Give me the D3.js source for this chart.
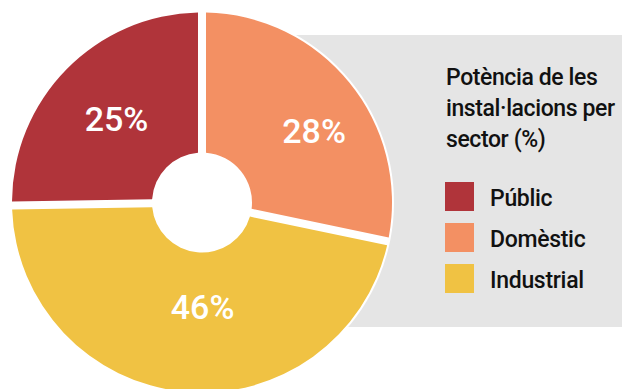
<!DOCTYPE html>
<html>
<head>
<meta charset="utf-8">
<script src="https://cdn.jsdelivr.net/npm/d3@7"></script>
<style>
  body { margin: 0; background: #fff; }
  svg text { font-family: Roboto, "Liberation Sans", sans-serif; font-weight: 500; }
</style>
</head>
<body>
<div id="chart"></div>
<script>
// data
const sectors = ['Públic', 'Domèstic', 'Industrial'];
const shares = [25, 28, 46];
const shareLabels = ['25%', '28%', '46%'];
const titleLines = ['Potència de les', 'instal·lacions per', 'sector (%)'];

const colors = ['#b0343a', '#f39063', '#f0c243'];
// hand placed label nudges from the slice centroid
const labelNudge = [[0, 0], [19, 4], [12, -15]];

const width = 622, height = 389;
const cx = 202, cy = 202.5;
const outerR = 190, innerR = 50;

const svg = d3.select('#chart').append('svg')
    .attr('width', width)
    .attr('height', height);

// grey panel behind the legend
svg.append('rect')
    .attr('x', cx)
    .attr('y', 35)
    .attr('width', width - cx)
    .attr('height', 292)
    .attr('fill', '#e5e5e5');

const data = sectors.map((s, i) => ({sector: s, value: shares[i], label: shareLabels[i], i}));

const total = d3.sum(shares);
const start = -2 * Math.PI * shares[0] / total;
const pie = d3.pie()
    .sort(null)
    .value(d => d.value)
    .startAngle(start)
    .endAngle(start + 2 * Math.PI);

const arc = d3.arc()
    .innerRadius(innerR)
    .outerRadius(outerR)
    .padRadius(100)
    .padAngle(0.08);

const labelArc = d3.arc()
    .innerRadius(120)
    .outerRadius(120);

const g = svg.append('g')
    .attr('transform', `translate(${cx},${cy})`);

// white disc so the gaps and the hole stay white over the panel
g.append('circle')
    .attr('r', outerR + 2)
    .attr('fill', '#fff');

const arcs = pie(data);

g.selectAll('.slice')
    .data(arcs)
    .join('path')
    .attr('class', 'slice')
    .attr('d', arc)
    .attr('fill', d => colors[d.data.i]);

g.selectAll('.pct')
    .data(arcs)
    .join('text')
    .attr('class', 'pct')
    .attr('transform', d => {
        const [x, y] = labelArc.centroid(d);
        const n = labelNudge[d.data.i];
        return `translate(${x + n[0]},${y + n[1]})`;
    })
    .attr('text-anchor', 'middle')
    .attr('dy', '0.36em')
    .attr('fill', '#fff')
    .attr('font-size', 34)
    .text(d => d.data.label);

// legend
const legend = svg.append('g')
    .attr('transform', 'translate(445,0)');

legend.selectAll('.title')
    .data(titleLines)
    .join('text')
    .attr('class', 'title')
    .attr('x', 1)
    .attr('y', (d, i) => 85 + i * 31)
    .attr('font-size', 23)
    .attr('letter-spacing', -0.4)
    .attr('fill', '#111')
    .text(d => d);

const item = legend.selectAll('.item')
    .data(data)
    .join('g')
    .attr('class', 'item')
    .attr('transform', d => `translate(0,${182 + d.i * 41})`);

item.append('rect')
    .attr('width', 29)
    .attr('height', 29)
    .attr('fill', d => colors[d.i]);

item.append('text')
    .attr('x', 45)
    .attr('y', 24)
    .attr('font-size', 23)
    .attr('letter-spacing', -0.3)
    .attr('fill', '#111')
    .text(d => d.sector);
</script>
</body>
</html>
